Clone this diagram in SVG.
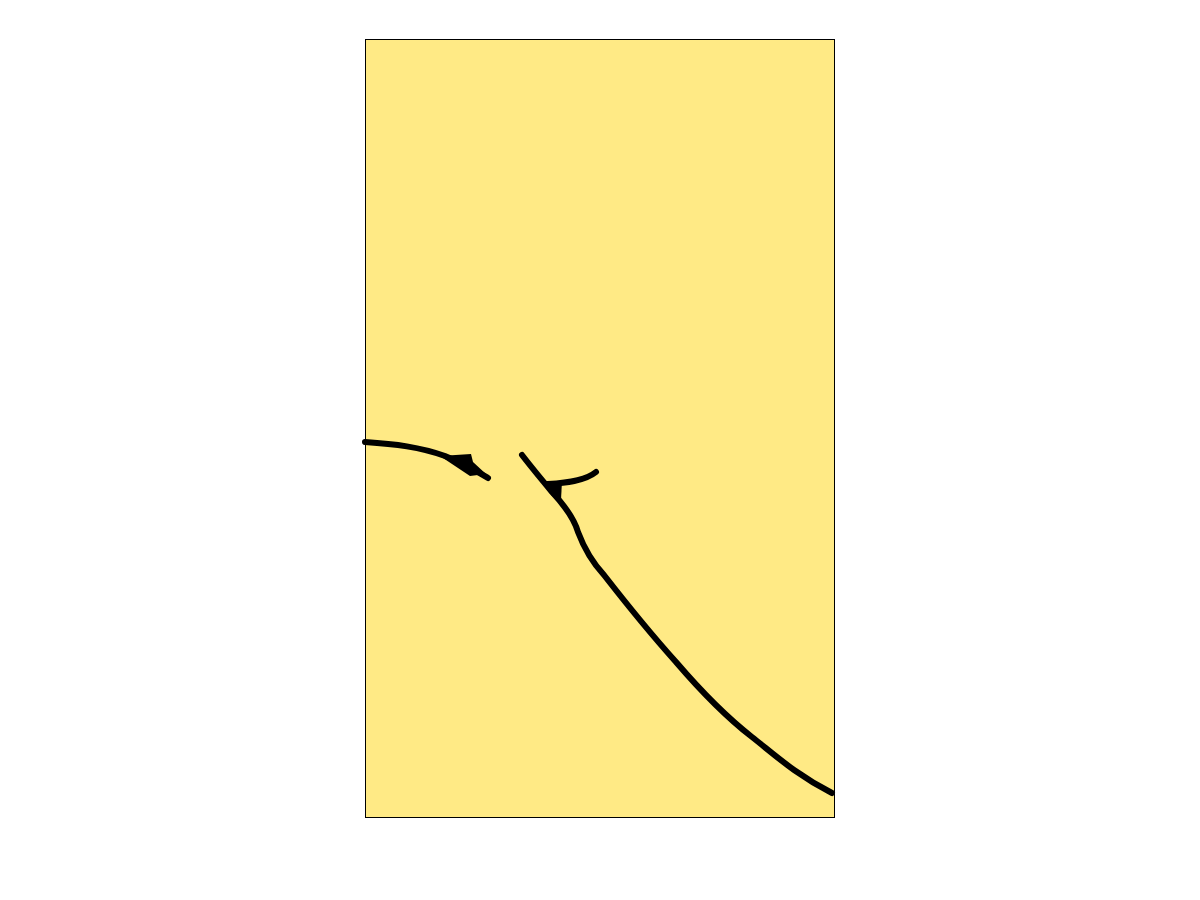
<svg xmlns="http://www.w3.org/2000/svg" width="1200" height="900" viewBox="0 0 1200 900">
<style>
.s{fill:none;stroke:#000;stroke-width:6;stroke-linecap:round;stroke-linejoin:round}
</style>
<rect x="365.5" y="39.5" width="469" height="778" fill="#FFEA85" stroke="#000" stroke-width="1"/>
<g id="strokes">
<path class="s" d="M365,442 C395,444 420,447 445,456 C465,464 478,472 488,478"/>
<polygon points="440,456 471,454 473,462 486,474 470,476" fill="#000"/>
<path class="s" d="M522,455 C532,468 542,480 552,492 C565,506 574,518 578,532 C584,548 592,562 604,575 C625,602 650,633 676,662 C700,690 725,716 752,737 C775,755 795,774 832,793"/>
<path class="s" d="M548,484 C565,483 585,481 596,472"/>
<polygon points="541,481 562,481 561,500 552,496" fill="#000"/>
</g>
</svg>
